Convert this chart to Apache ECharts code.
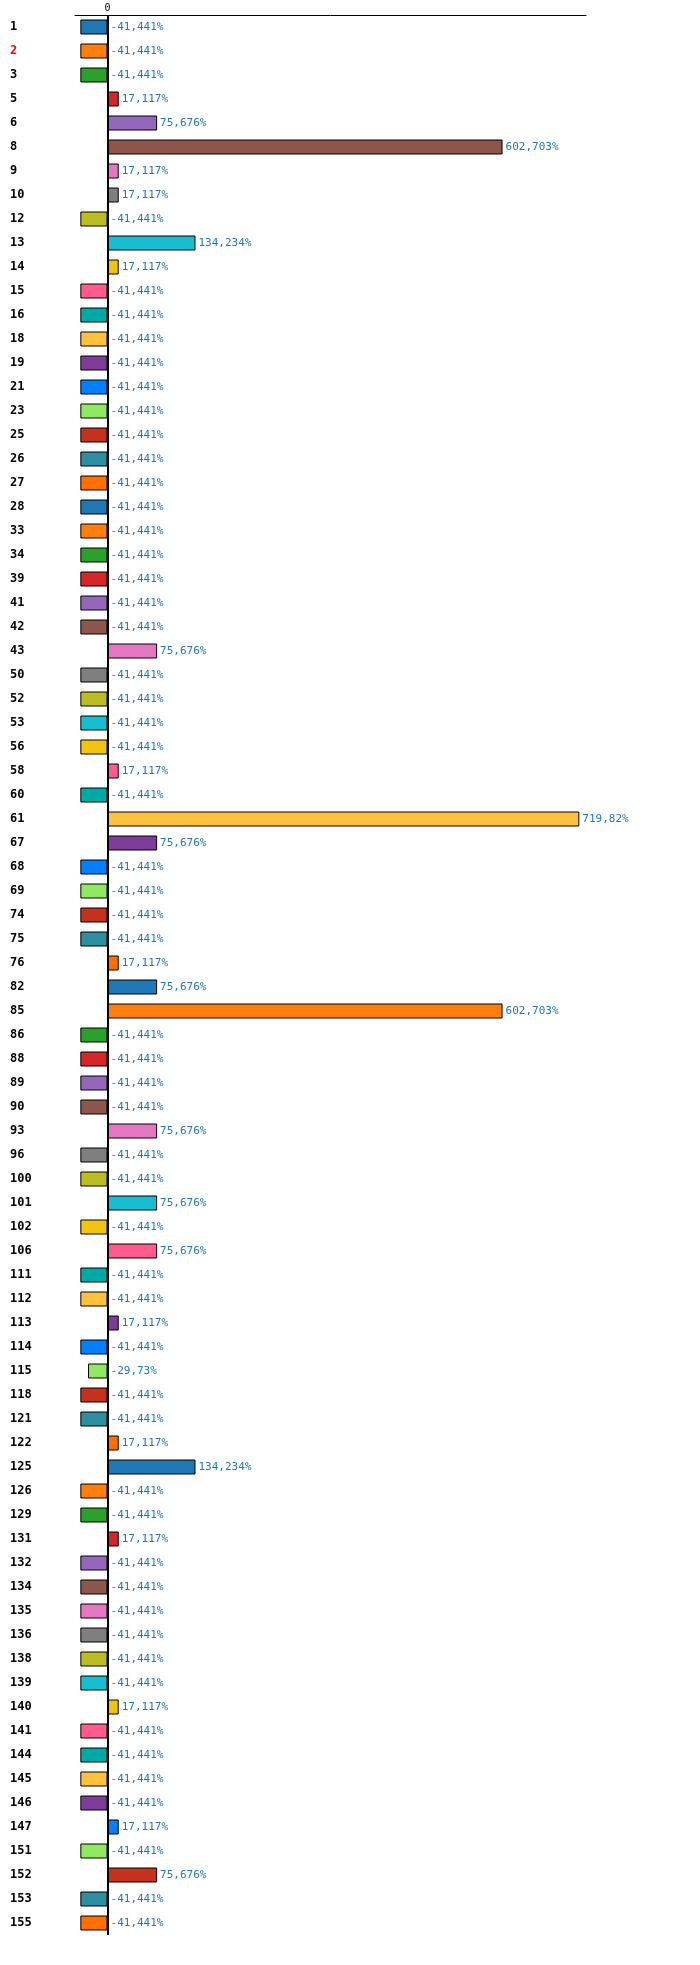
<!DOCTYPE html>
<html><head><meta charset="utf-8">
<script src="https://cdn.jsdelivr.net/npm/echarts@6/dist/echarts.min.js"></script>
<style>html,body{margin:0;padding:0;background:#fff}#c{width:700px;height:1965px}</style>
</head><body><div id="c"></div>
<script>
const categories = ['1','2','3','5','6','8','9','10','12','13','14','15','16','18','19','21','23','25','26','27','28','33','34','39','41','42','43','50','52','53','56','58','60','61','67','68','69','74','75','76','82','85','86','88','89','90','93','96','100','101','102','106','111','112','113','114','115','118','121','122','125','126','129','131','132','134','135','136','138','139','140','141','144','145','146','147','151','152','153','155'];
const N = -41.441;
const values = [N,N,N,17.117,75.676,602.703,17.117,17.117,N,134.234,
17.117,N,N,N,N,N,N,N,N,N,
N,N,N,N,N,N,75.676,N,N,N,
N,17.117,N,719.82,75.676,N,N,N,N,17.117,
75.676,602.703,N,N,N,N,75.676,N,N,75.676,
N,75.676,N,N,17.117,N,-29.73,N,N,17.117,
134.234,N,N,17.117,N,N,N,N,N,N,
17.117,N,N,N,N,17.117,N,75.676,N,N];
const palette = ['#1f77b4','#ff7f0e','#2ca02c','#d62728','#9467bd','#8c564b','#e377c2','#7f7f7f','#bcbd22','#17becf',
'#f1c40f','#ff5c8d','#00aaa5','#ffc23c','#7d3c98','#0080ff','#91e862','#c4321e','#2d8fa0','#ff7000'];
const chart = echarts.init(document.getElementById('c'));
chart.setOption({
  animation:false,
  grid:{left:75,right:114,top:15,height:1920},
  xAxis:{type:'value',position:'top',min:-49.6,max:730,
    axisLine:{show:true,lineStyle:{color:'#000',width:1}},
    axisTick:{show:false},splitLine:{show:false},
    axisLabel:{margin:2,fontFamily:'DejaVu Sans Mono',fontSize:10,color:'#000',
      customValues:[0],formatter:v=>v===0?'0':''}},
  yAxis:{type:'category',data:categories,inverse:true,
    axisLine:{show:false},axisTick:{show:false},
    axisLabel:{align:'left',margin:65,fontFamily:'DejaVu Sans Mono',fontWeight:'bold',fontSize:12,
      formatter:v=>v==='2'?'{r|'+v+'}':v,
      color:'#000',rich:{r:{color:'#ff0000',fontFamily:'DejaVu Sans Mono',fontWeight:'bold',fontSize:12}}}},
  series:[{type:'bar',barWidth:15,
    data:values.map((v,i)=>({value:v,itemStyle:{color:palette[i%20]}})),
    itemStyle:{borderColor:'#000',borderWidth:1},
    label:{show:true,position:'right',distance:3,fontFamily:'DejaVu Sans Mono',fontSize:11,color:'#1f77b4',
      formatter:p=>String(p.value).replace('.',',')+'%'},
    markLine:{silent:true,symbol:'none',label:{show:false},
      lineStyle:{color:'#000',width:2,type:'solid'},data:[{xAxis:0}]}}]
});
</script></body></html>
